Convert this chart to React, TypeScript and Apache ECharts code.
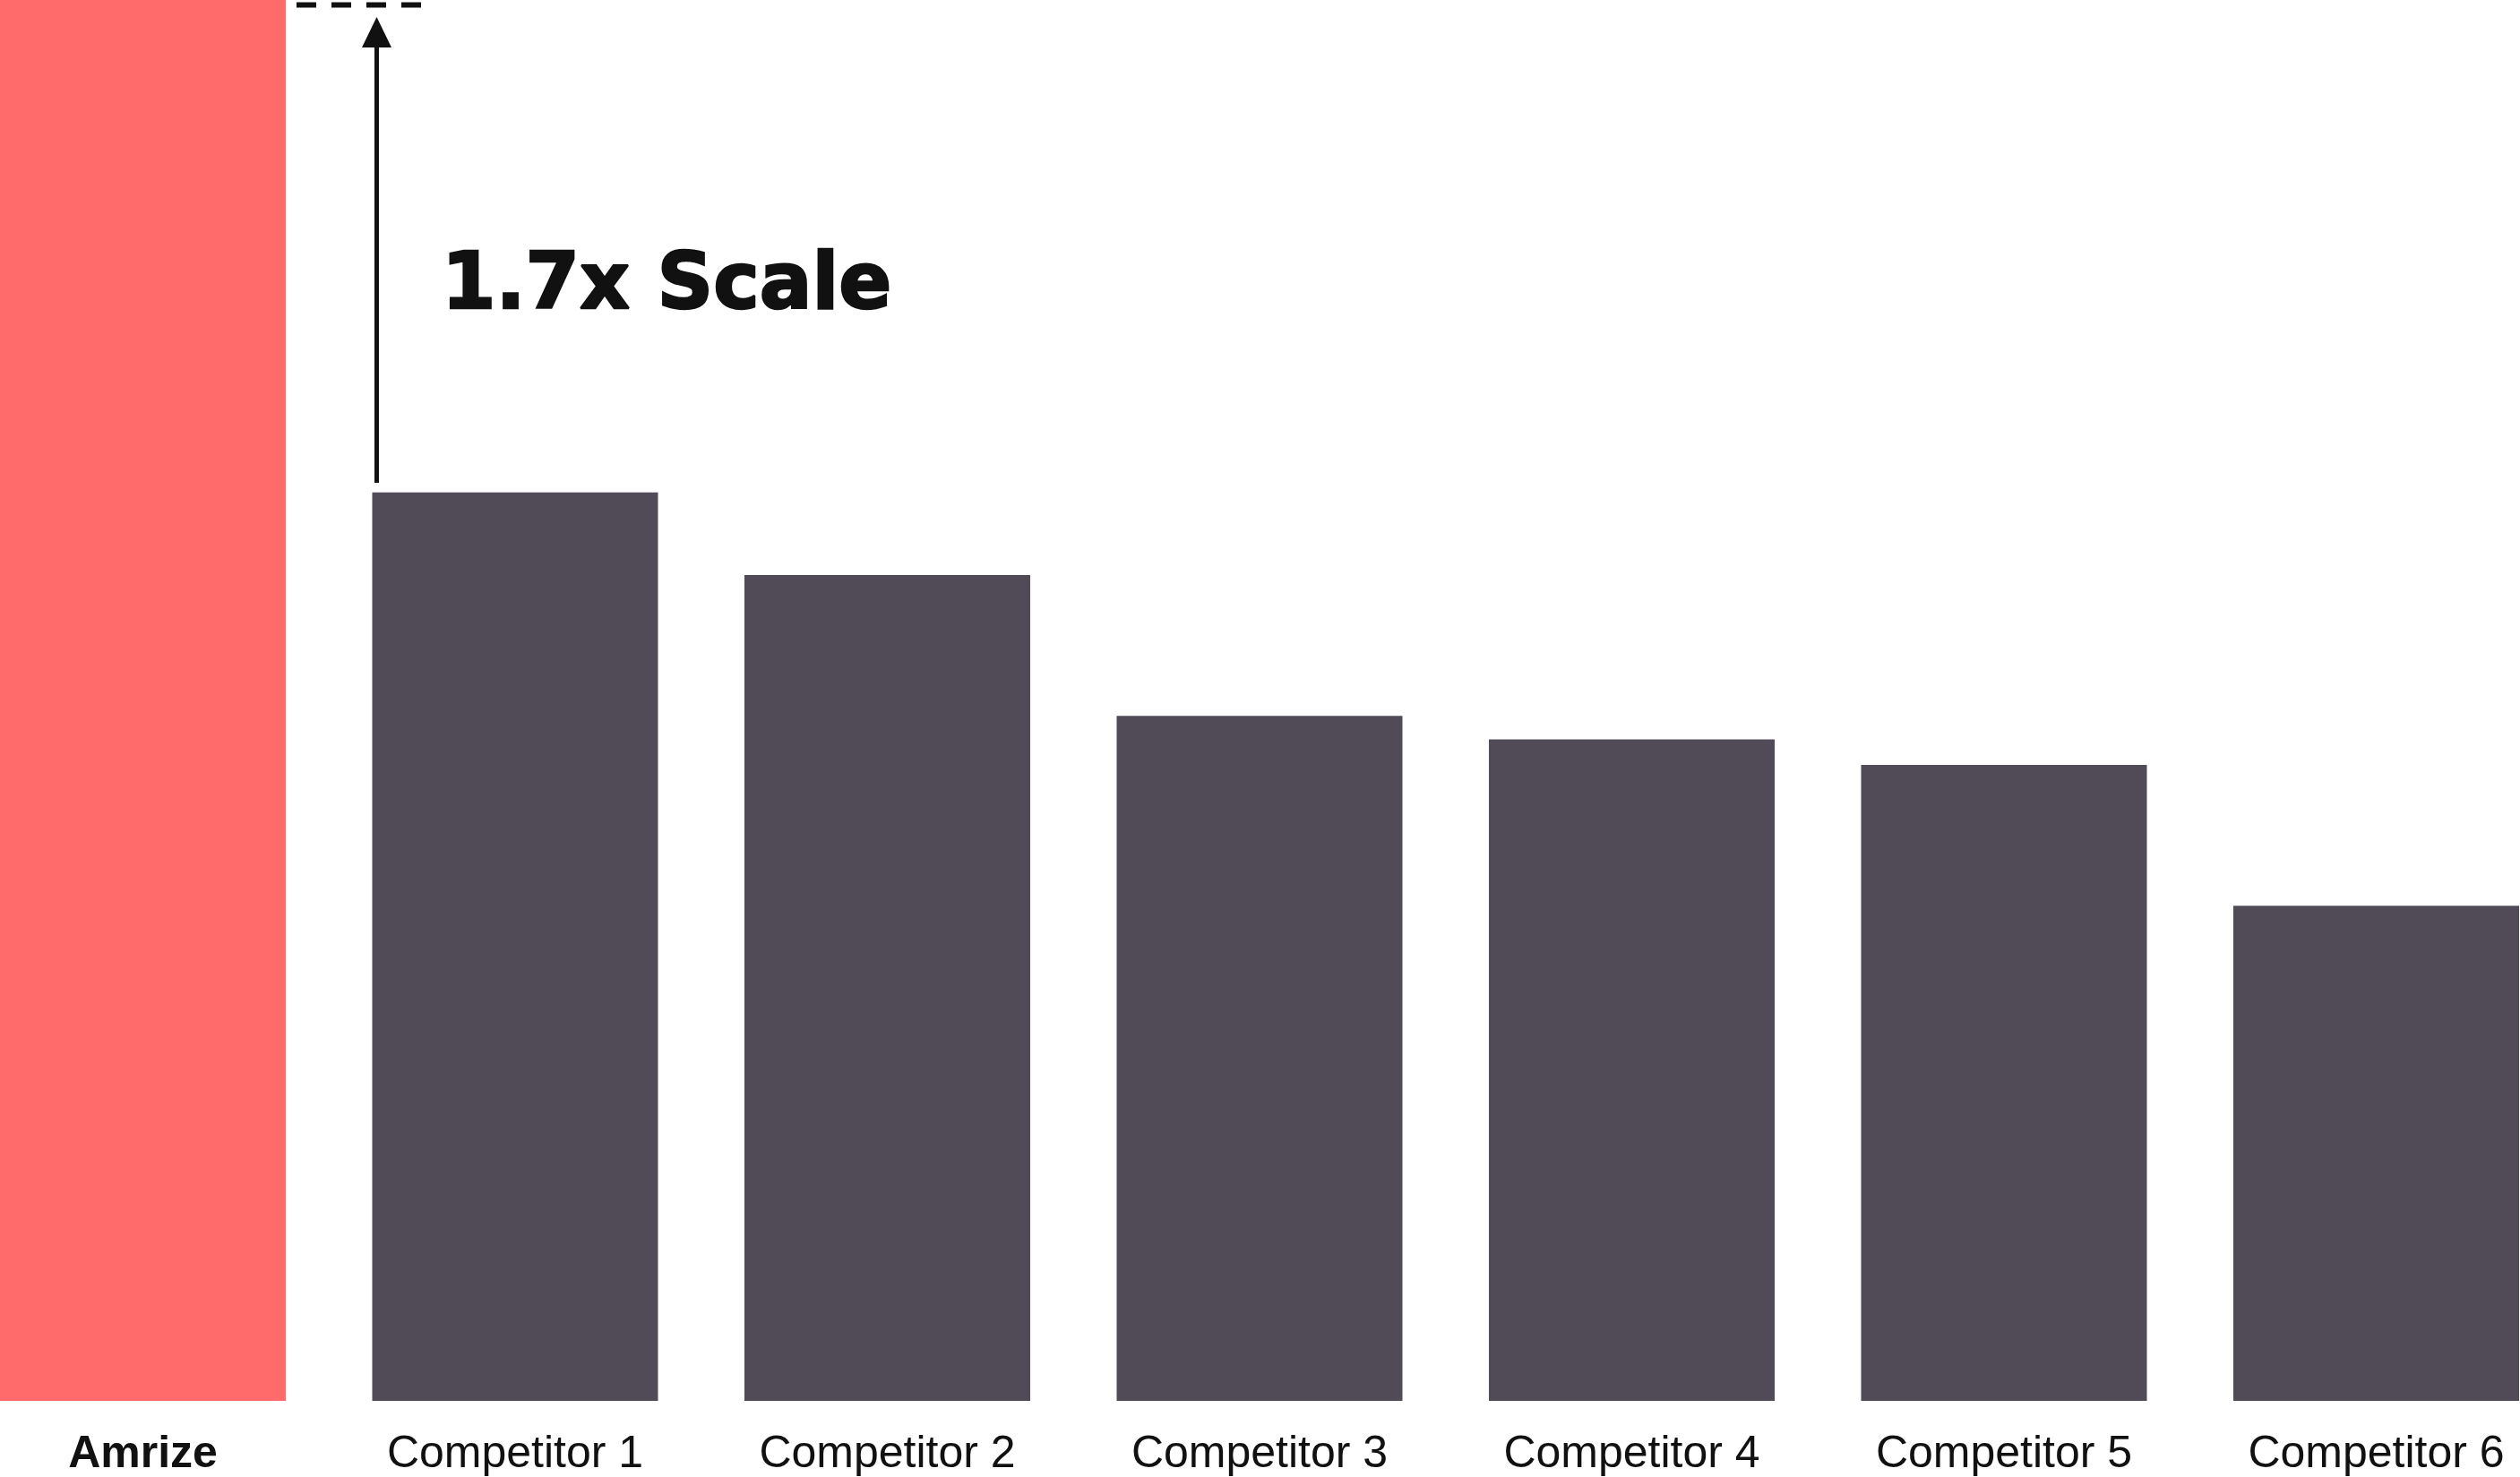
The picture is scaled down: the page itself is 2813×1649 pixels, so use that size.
import React, { useEffect, useRef } from "react";
import * as echarts from "echarts";

const categories = ["Amrize", "Competitor 1", "Competitor 2", "Competitor 3", "Competitor 4", "Competitor 5", "Competitor 6"];
// Relative scale, Competitor 1 = 100
const values = [170, 100, 90.9, 75.4, 72.8, 70.0, 54.5];
const barColors = ["#FF6B6B", "#514A57", "#514A57", "#514A57", "#514A57", "#514A57", "#514A57"];
const annotationText = "1.7x Scale";
const yMax = 154.2;

export default function App() {
  const ref = useRef<HTMLDivElement>(null);
  useEffect(() => {
    if (!ref.current) return;
    const chart = echarts.init(ref.current, undefined, { renderer: "svg" });
    chart.setOption({
      animation: false,
      backgroundColor: "#ffffff",
      grid: { left: 159.5, right: 160.5, top: 0, bottom: 85, containLabel: false },
      xAxis: {
        type: "category",
        boundaryGap: false,
        data: categories.map((c, i) => ({
          value: c,
          textStyle: { fontWeight: i === 0 ? "bold" : "normal" },
        })),
        axisLine: { show: false },
        axisTick: { show: false },
        axisLabel: {
          interval: 0,
          fontSize: 50,
          fontFamily: "Liberation Sans, Arial, sans-serif",
          color: "#111111",
          margin: 32,
        },
      },
      yAxis: {
        type: "value",
        min: 0,
        max: yMax,
        show: false,
        splitLine: { show: false },
      },
      series: [
        {
          type: "bar",
          clip: true,
          barWidth: 319,
          z: 1,
          data: values.map((v, i) => ({ value: v, itemStyle: { color: barColors[i] } })),
        },
      ],
      graphic: [
        {
          type: "line",
          z: 100,
          shape: { x1: 331, y1: 5.5, x2: 470, y2: 5.5 },
          style: { stroke: "#111111", lineWidth: 6, lineDash: [22, 17] },
        },
        {
          type: "line",
          z: 100,
          shape: { x1: 420.5, y1: 48, x2: 420.5, y2: 539 },
          style: { stroke: "#111111", lineWidth: 5 },
        },
        {
          type: "polygon",
          z: 100,
          shape: { points: [[420.5, 19], [404, 53], [437, 53]] },
          style: { fill: "#111111" },
        },
        {
          type: "text",
          z: 100,
          x: 493,
          y: 270,
          style: {
            text: annotationText,
            fontSize: 87,
            fontWeight: "bold",
            fontFamily: "DejaVu Sans, sans-serif",
            fill: "#111111",
            stroke: "#111111",
            lineWidth: 2.5,
            verticalAlign: "top",
          },
        },
      ],
    });
    return () => chart.dispose();
  }, []);
  return (
    <div
      ref={ref}
      style={{ position: "absolute", left: 0, top: 0, width: 2813, height: 1649 }}
    />
  );
}
